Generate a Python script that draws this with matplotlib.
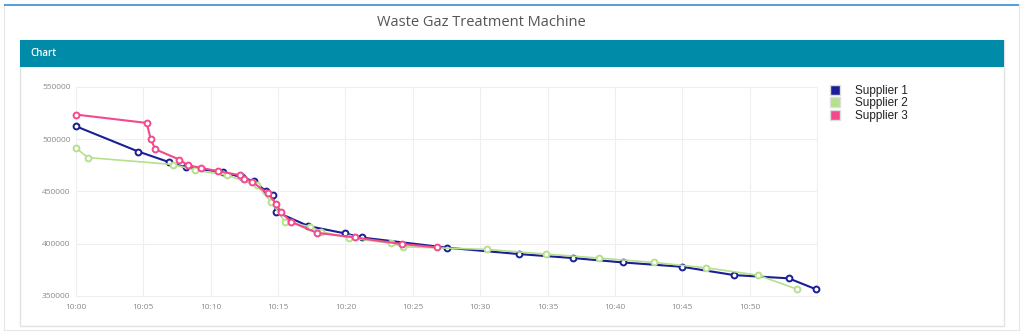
import matplotlib
matplotlib.use("Agg")
import matplotlib.pyplot as plt
import matplotlib.dates as mdates
from matplotlib.patches import Rectangle
from matplotlib.lines import Line2D
import pandas as pd

title = "Waste Gaz Treatment Machine"
panel_title = "Chart"
series_names = ["Supplier 1", "Supplier 2", "Supplier 3"]
series_colors = ["#1b1f96", "#b5e08c", "#f24a8d"]

s1_times = ["10:00:00", "10:04:38", "10:06:52", "10:08:08", "10:10:54", "10:12:18",
            "10:13:12", "10:14:06", "10:14:36", "10:14:51", "10:17:15", "10:19:58",
            "10:21:12", "10:27:32", "10:32:54", "10:36:54", "10:40:36", "10:44:58",
            "10:48:51", "10:52:54", "10:54:56"]
s1_values = [512400, 488200, 478300, 473000, 468800, 463500,
             459900, 450300, 446500, 430600, 416900, 409900,
             406000, 396200, 390100, 386300, 382100, 378000,
             370000, 366900, 356400]

s2_times = ["10:00:00", "10:00:52", "10:07:14", "10:08:50", "10:11:12", "10:13:24",
            "10:14:30", "10:15:30", "10:17:24", "10:18:12", "10:20:18", "10:23:24",
            "10:24:15", "10:30:30", "10:34:54", "10:38:48", "10:42:54", "10:46:45",
            "10:50:36", "10:53:33"]
s2_values = [491700, 482500, 475800, 470400, 465600, 456000,
             440100, 421000, 416200, 411400, 405700, 400300,
             397100, 394600, 390100, 386300, 382100, 377000,
             370000, 356400]

s3_times = ["10:00:00", "10:05:15", "10:05:32", "10:05:53", "10:07:40", "10:08:17",
            "10:09:17", "10:10:34", "10:12:11", "10:12:30", "10:13:06", "10:14:14",
            "10:14:51", "10:15:12", "10:15:58", "10:17:52", "10:20:42", "10:24:12",
            "10:26:48"]
s3_values = [523600, 515600, 500600, 490400, 480600, 475200,
             472600, 469400, 465600, 462400, 459200, 448100,
             438500, 430600, 421000, 410500, 406000, 399700,
             396500]

x_ticks = ["10:00", "10:05", "10:10", "10:15", "10:20", "10:25",
           "10:30", "10:35", "10:40", "10:45", "10:50"]
y_ticks = [350000, 400000, 450000, 500000, 550000]
x_range = ["10:00", "10:55"]

def to_dt(lst):
    return pd.to_datetime(["2024-01-01 " + t for t in lst])

W, H = 1024, 332
fig = plt.figure(figsize=(W / 100, H / 100), dpi=100)
fig.patch.set_facecolor("white")

def px_rect(x0, y0, x1, y1, **kw):
    fig.patches.append(Rectangle((x0 / W, 1 - y1 / H), (x1 - x0) / W, (y1 - y0) / H,
                                 transform=fig.transFigure, figure=fig, zorder=0, **kw))

# outer card
px_rect(4, 4, 1019, 330, facecolor="white", edgecolor="#e6e6e6", linewidth=0.8)
px_rect(4, 3.5, 1019, 5.5, facecolor="#5a9fd6", edgecolor="none")
# inner panel
px_rect(20, 40, 1004, 326, facecolor="white", edgecolor="#e3e3e3", linewidth=1.0)
px_rect(20, 40, 1004, 67, facecolor="#008ca9", edgecolor="none")

fig.text(481 / W, 1 - 22 / H, title, ha="center", va="center", fontsize=10.5,
         color="#555555", family="Open Sans")
fig.text(30 / W, 1 - 53.5 / H, panel_title, ha="left", va="center", fontsize=7,
         color="white", family="Open Sans", fontweight="semibold")

ax = fig.add_axes([76 / W, 1 - 296 / H, (817 - 76) / W, (296 - 87) / H])
ax.set_zorder(5)
ax.set_facecolor("white")

order = [1, 0, 2]
data = [(s1_times, s1_values), (s2_times, s2_values), (s3_times, s3_values)]
for i in order:
    t, v = data[i]
    lw = 1.5 if i != 1 else 1.2
    ax.plot(to_dt(t), v, color=series_colors[i], linewidth=lw, marker="o",
            markersize=4.2, markerfacecolor="white", markeredgecolor=series_colors[i],
            markeredgewidth=1.4, zorder=3 + i, clip_on=False)

ax.set_xlim(to_dt(x_range)[0], to_dt(x_range)[1])
ax.set_ylim(350000, 550000)
ax.set_xticks(to_dt(x_ticks))
ax.set_xticklabels(x_ticks)
ax.set_yticks(y_ticks)
ax.set_yticklabels([str(v) for v in y_ticks])
ax.grid(True, color="#efefef", linewidth=0.8)
ax.set_axisbelow(True)
for s in ax.spines.values():
    s.set_color("#efefef")
    s.set_linewidth(0.8)
ax.tick_params(axis="both", length=0, labelsize=6, labelcolor="#8a8a8a", pad=4)
for lab in ax.get_xticklabels() + ax.get_yticklabels():
    lab.set_family("Open Sans")
ax.tick_params(axis="x", pad=6)

handles = [Line2D([], [], linestyle="none", marker="s", markersize=7,
                  markerfacecolor=c, markeredgecolor="#dddddd", markeredgewidth=1.0)
           for c in series_colors]
leg = fig.legend(handles, series_names, loc="upper left",
                 bbox_to_anchor=(824 / W, 1 - 80 / H), frameon=False,
                 prop={"family": "Liberation Sans", "size": 8.5},
                 handlelength=1.0, handletextpad=1.2, labelspacing=0.05,
                 borderaxespad=0)
leg.set_zorder(6)
for t in leg.get_texts():
    t.set_color("#222222")

fig.savefig("out.png", dpi=100, facecolor="white")
